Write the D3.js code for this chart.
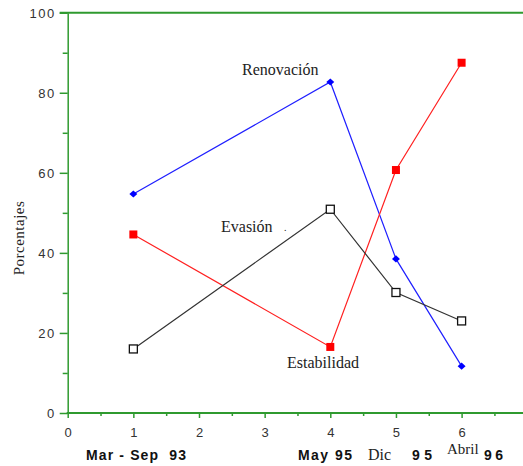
<!DOCTYPE html>
<html><head><meta charset="utf-8">
<script src="https://cdn.jsdelivr.net/npm/d3@7"></script>
<style>
body{margin:0;background:#fff;}
svg{display:block;}
</style></head>
<body>
<svg id="c" width="523" height="466"></svg>
<script>
const xValues = [1, 4, 5, 6];
const renovacion = [54.7, 82.7, 38.5, 11.7];
const estabilidad = [44.6, 16.5, 60.7, 87.5];
const evasion = [16.0, 50.9, 30.1, 23.0];
const xTicks = [0, 1, 2, 3, 4, 5, 6];
const yTicks = [0, 20, 40, 60, 80, 100];
const yTitle = "Porcentajes";

const svg = d3.select("#c");
const green = "#2f9a2f";
const x = d3.scaleLinear().domain([0, 7]).range([67.7, 67.7 + 7 * 65.65]);
const y = d3.scaleLinear().domain([0, 100]).range([413, 12.7]);

// minor ticks
svg.append("g").attr("transform", `translate(${x(0)},0)`)
  .call(d3.axisLeft(y).tickValues([10,30,50,70,90]).tickSize(5).tickFormat(""))
  .call(g => g.select(".domain").remove())
  .call(g => g.selectAll("line").attr("stroke", green).attr("stroke-width", 1.5));
svg.append("g").attr("transform", `translate(0,${y(0)})`)
  .call(d3.axisBottom(x).tickValues([0.5,1.5,2.5,3.5,4.5,5.5,6.5]).tickSize(3).tickFormat(""))
  .call(g => g.select(".domain").remove())
  .call(g => g.selectAll("line").attr("stroke", green).attr("stroke-width", 1.5));

// major y axis
svg.append("g").attr("transform", `translate(${x(0)},0)`)
  .call(d3.axisLeft(y).tickValues(yTicks).tickSize(8).tickPadding(4).tickSizeOuter(0))
  .call(g => g.select(".domain").attr("stroke", green).attr("stroke-width", 1.5))
  .call(g => g.selectAll("line").attr("stroke", green).attr("stroke-width", 1.5))
  .call(g => g.selectAll("text").attr("font-family", "Liberation Sans, Arial, sans-serif")
      .attr("font-size", 13).attr("fill", "#333").attr("letter-spacing", "1.5px").attr("dy", "0.36em"));

// major x axis
svg.append("g").attr("transform", `translate(0,${y(0)})`)
  .call(d3.axisBottom(x).tickValues(xTicks).tickFormat(d3.format("d")).tickSize(5).tickPadding(10).tickSizeOuter(0))
  .call(g => g.select(".domain").remove())
  .call(g => g.selectAll("line").attr("stroke", green).attr("stroke-width", 1.5))
  .call(g => g.selectAll("text").attr("font-family", "Liberation Sans, Arial, sans-serif")
      .attr("font-size", 13).attr("fill", "#333"));

// x baseline and top line
svg.append("line").attr("x1", x(0) - 1).attr("x2", 523).attr("y1", y(0)).attr("y2", y(0))
  .attr("stroke", green).attr("stroke-width", 2.2);
svg.append("line").attr("x1", x(0) - 8).attr("x2", 523).attr("y1", y(100)).attr("y2", y(100))
  .attr("stroke", green).attr("stroke-width", 2);

// Series
const line = d3.line().x((d, i) => x(xValues[i])).y(d => y(d));
function series(vals, color) {
  svg.append("path").datum(vals).attr("d", line).attr("fill", "none")
    .attr("stroke", color).attr("stroke-width", 1.2);
}
series(renovacion, "#1f1fff");
series(estabilidad, "#ff2020");
series(evasion, "#333");

svg.append("g").selectAll("path").data(renovacion).join("path")
  .attr("d", d3.symbol(d3.symbolDiamond2, 40)())
  .attr("transform", (d, i) => `translate(${x(xValues[i])},${y(d)}) scale(1,0.9)`)
  .attr("fill", "#0000ff");
svg.append("g").selectAll("rect").data(estabilidad).join("rect")
  .attr("x", (d, i) => x(xValues[i]) - 4).attr("y", d => y(d) - 4)
  .attr("width", 8).attr("height", 8).attr("fill", "#ff0000");
svg.append("g").selectAll("rect").data(evasion).join("rect")
  .attr("x", (d, i) => x(xValues[i]) - 4).attr("y", d => y(d) - 4)
  .attr("width", 8).attr("height", 8).attr("fill", "#fff").attr("stroke", "#111").attr("stroke-width", 1.3);

// Annotations
const serif = "Liberation Serif, Times New Roman, serif";
const ann = svg.append("g").attr("font-family", serif).attr("font-size", 16).attr("fill", "#222");
ann.append("text").attr("x", 242).attr("y", 75).text("Renovación");
ann.append("text").attr("x", 221).attr("y", 232).text("Evasión");
ann.append("text").attr("x", 284).attr("y", 231).attr("font-size", 10).text(".");
ann.append("text").attr("x", 287).attr("y", 368).text("Estabilidad");

svg.append("text").attr("transform", "translate(24,238) rotate(-90)")
  .attr("text-anchor", "middle").attr("font-family", serif).attr("font-size", 15)
  .attr("fill", "#222").attr("letter-spacing", "0.5px").text(yTitle);

// Period labels
const bold = svg.append("g").attr("font-family", "Liberation Sans, Arial, sans-serif")
  .attr("font-size", 14).attr("font-weight", "bold").attr("fill", "#111");
function bl(txt, x0, len) {
  bold.append("text").attr("x", x0).attr("y", 460).attr("xml:space", "preserve")
    .attr("textLength", len).attr("lengthAdjust", "spacing").text(txt);
}
bl("Mar - Sep  93", 86, 100);
bl("May 95", 298, 54);
bl("9 5", 412, 20);
bl("96", 484, 19);
svg.append("text").attr("x", 368).attr("y", 460).attr("font-family", serif).attr("font-size", 16).attr("fill", "#222").text("Dic");
svg.append("text").attr("x", 447).attr("y", 454).attr("font-family", serif).attr("font-size", 15).attr("fill", "#222").text("Abril");
</script>
</body></html>
